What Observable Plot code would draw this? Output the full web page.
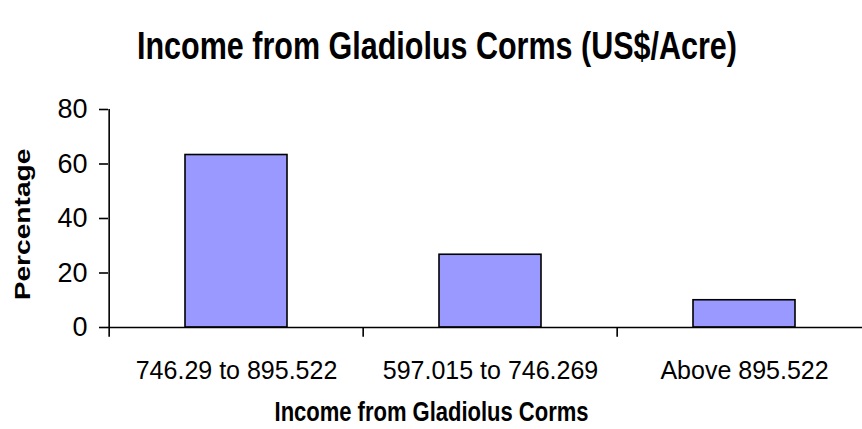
<!DOCTYPE html>
<html>
<head>
<meta charset="utf-8">
<script src="https://cdn.jsdelivr.net/npm/d3@7"></script>
<script src="https://cdn.jsdelivr.net/npm/@observablehq/plot@0.6"></script>
<style>
  html, body { margin: 0; padding: 0; background: #fff; overflow: hidden; }
  #wrap { position: relative; width: 862px; height: 429px; overflow: hidden; font-family: "Liberation Sans", Arial, sans-serif; }
  #title { position: absolute; left: 6px; top: 0; width: 862px; height: 90px; line-height: 90px; text-align: center; font-weight: bold; font-size: 30.5px; color: #000; transform: scaleY(1.28); transform-origin: 50% 45px; }
  #chart { position: absolute; left: 0; top: 80px; }
</style>
</head>
<body>
<div id="wrap">
  <div id="title">Income from Gladiolus Corms (US$/Acre)</div>
  <div id="chart"></div>
</div>
<script>
const categories = ["746.29 to 895.522", "597.015 to 746.269", "Above 895.522"];
const percentages = [63.3, 26.7, 10.0];
const yTicks = [0, 20, 40, 60, 80];
const yLabel = "Percentage";
const xLabel = "Income from Gladiolus Corms";

const data = categories.map((c, i) => ({category: c, pct: percentages[i]}));
const step = (872 - 108) / categories.length;
const stretch = 1.28;

const chart = Plot.plot({
  width: 862,
  height: 349,
  marginLeft: 108,
  marginRight: 0,
  marginTop: 29,
  marginBottom: 102,
  style: {fontFamily: "'Liberation Sans', Arial, sans-serif", color: "#000", background: "#fff", overflow: "hidden"},
  x: {domain: categories, range: [108, 872], paddingInner: 0.6, paddingOuter: 0.3, align: 0.5},
  y: {domain: [0, 80]},
  marks: [
    Plot.barY(data, {x: "category", y: "pct", fill: "#9999ff", stroke: "#000", strokeWidth: 1.6}),
    Plot.ruleY([0], {stroke: "#000", strokeWidth: 1.6}),
    Plot.ruleX(categories, {x: d => d, dx: -step / 2, y1: -3.6, y2: (d, i) => i === 0 ? 80 : 0, stroke: "#000", strokeWidth: 1.6}),
    Plot.axisY({ticks: yTicks, tickSize: 9, tickPadding: 12, fontSize: 27, label: null, stroke: "#000", strokeWidth: 1.6}),
    Plot.axisX({tickSize: 0, tickPadding: 34, fontSize: 25, label: null}),
    Plot.text([yLabel], {text: d => d, frameAnchor: "left", dx: -86, dy: 6, rotate: -90, textAnchor: "middle", fontSize: 22, fontWeight: "bold", lineAnchor: "middle", fill: "#000"}),
    Plot.text([xLabel], {text: d => d, frameAnchor: "bottom", dx: -54, dy: 84, textAnchor: "middle", fontSize: 22, fontWeight: "bold", lineAnchor: "middle", fill: "#000"})
  ]
});

// The bold titles in the reference are drawn in a tall, condensed face: stretch them along their height.
d3.select(chart).selectAll("text").each(function () {
  const t = d3.select(this);
  const txt = t.text();
  if (txt !== yLabel && txt !== xLabel) return;
  const tr = t.attr("transform") || "";
  const s = txt === yLabel ? `scale(${stretch},1)` : `scale(1,${stretch})`;
  t.attr("transform", `${tr} ${s}`);
});
document.getElementById("chart").appendChild(chart);
</script>
</body>
</html>
